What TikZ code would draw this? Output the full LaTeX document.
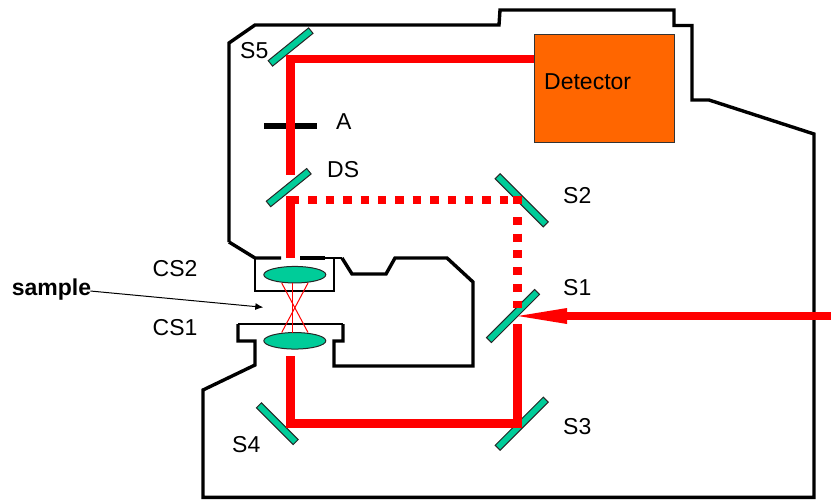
\documentclass[tikz,border=0pt]{standalone}
\usepackage{fontspec}
\setmainfont{Liberation Sans}
\definecolor{mirror}{HTML}{00CC99}
\definecolor{det}{HTML}{FF6600}
\tikzset{
 x=1pt,y=-1pt,
 wall/.style={draw=black,line width=3.4pt,line join=miter},
 thinwall/.style={draw=black,line width=2.2pt},
 beam/.style={draw=red,line width=8.5pt},
 dotbeam/.style={draw=red,line width=8.5pt},
 ray/.style={draw=red,line width=1pt},
 mirrorbox/.style={draw=black!85,line width=1pt,fill=mirror,minimum height=7pt,inner sep=0pt,outer sep=0pt},
 lens/.style={ellipse,draw=black!85,line width=1pt,fill=mirror,minimum width=62pt,minimum height=16.5pt,inner sep=0pt,outer sep=0pt},
 lbl/.style={font=\fontsize{23}{25}\selectfont,inner sep=0pt,text=black},
}
\usetikzlibrary{shapes.geometric,arrows.meta}
\begin{document}
\begin{tikzpicture}
\useasboundingbox (0,0) rectangle (831,499);
% housing
\draw[wall] (229,242) -- (229,43) -- (255,25) -- (499,25) -- (500,10) -- (674,10) -- (674,25.5) -- (692,25.5) -- (692,100) -- (709,100) -- (814,134) -- (814,497.3) -- (203,497.3) -- (203,390) -- (255,365) -- (255,341) -- (238,341) -- (238,324);
\draw[thinwall] (238,324) -- (343,324);
\draw[wall] (343,324) -- (343,341) -- (334,341) -- (334,366) -- (473,366) -- (473,282) -- (447,258) -- (395,258) -- (386,274) -- (352,274) -- (342,258);
\draw[wall] (229,242) -- (255,258) -- (281,258);
\draw[wall] (300,258) -- (325,258);
\draw[thinwall] (325,258) -- (342,258);
\draw[thinwall] (255,258) -- (255,291) -- (334,291) -- (334,258);
% detector
\node[draw=black!80,line width=0.8pt,fill=det,minimum width=140pt,minimum height=108pt,inner sep=0pt] (D) at (604.3,88.3) {};
\node[lbl,anchor=west] (Dl) at (544,82) {Detector};
% aperture
\coordinate (Al) at (264,125.5);
\coordinate (Ar) at (317,125.5);
\draw[draw=black,line width=6pt] (Al) -- (Ar);
% mirrors
\node[mirrorbox,minimum width=52pt,rotate=39] (S5) at (290.6,47) {};
\node[mirrorbox,minimum width=52pt,rotate=39] (DS) at (288.7,187.6) {};
\node[mirrorbox,minimum width=68pt,rotate=-45] (S2) at (521.7,200.3) {};
\node[mirrorbox,minimum width=68pt,rotate=45] (S1) at (513,316) {};
\node[mirrorbox,minimum width=68pt,rotate=45] (S3) at (521.7,423.7) {};
\node[mirrorbox,minimum width=52pt,rotate=-45] (S4) at (277.3,423.7) {};
% beams
\coordinate (c1) at (290.5,59);
\coordinate (c2) at (290.5,200);
\coordinate (c3) at (517.3,200);
\coordinate (c4) at (517.3,423.5);
\coordinate (c5) at (290.5,423.5);
\coordinate (inR) at (831,316);
\coordinate (inH) at (567,316);
\draw[beam] (D.west |- c1) -- (c1) -- (290.5,175);
\draw[beam] (286.25,59) -- (295,59);
\draw[beam] (290.5,204) -- (290.5,258);
\draw[beam] (290.5,356) -- (c5) -- (c4) -- (517.3,324);
\draw[beam] (286.25,423.5) -- (295,423.5);
\draw[beam] (286.25,200) -- (299,200);
\draw[dotbeam,dash pattern=on 8.5pt off 8.9pt] (308.3,200) -- (509,200);
\draw[beam] (513,200) -- (521.5,200);
\draw[dotbeam,dash pattern=on 8pt off 8.7pt] (517.3,217) -- (517.3,308);
\draw[beam] (inR) -- (inH);
\fill[red] (567,308) -- (567,324) -- (518,316) -- cycle;
% lenses and rays
\node[lens] (L2) at (294.8,274.7) {};
\node[lens] (L1) at (294.8,340.8) {};
\draw[ray] (281.7,283) -- (308,332.5);
\draw[ray] (308,283) -- (281.7,332.5);
\draw[ray] (292.7,283) -- (292.7,332.5);
% labels
\node[lbl,anchor=west] at (240,51) {S5};
\node[lbl,anchor=west] at (336,122) {A};
\node[lbl,anchor=west] at (327,170) {DS};
\node[lbl,anchor=west] at (563,196) {S2};
\node[lbl,anchor=west] at (563,288) {S1};
\node[lbl,anchor=west] at (563,427) {S3};
\node[lbl,anchor=west] at (232,445) {S4};
\node[lbl,anchor=west] at (152.5,269) {CS2};
\node[lbl,anchor=west] at (152.5,327.5) {CS1};
\node[lbl,anchor=west,font=\fontsize{23}{25}\selectfont\bfseries] (sm) at (11.7,290) {sample};
\coordinate (tip) at (263.3,307.3);
\draw[black,line width=1pt,-{Latex[length=8pt,width=7pt]}] (sm.east) ++(-1,1) -- (tip);
\end{tikzpicture}
\end{document}
